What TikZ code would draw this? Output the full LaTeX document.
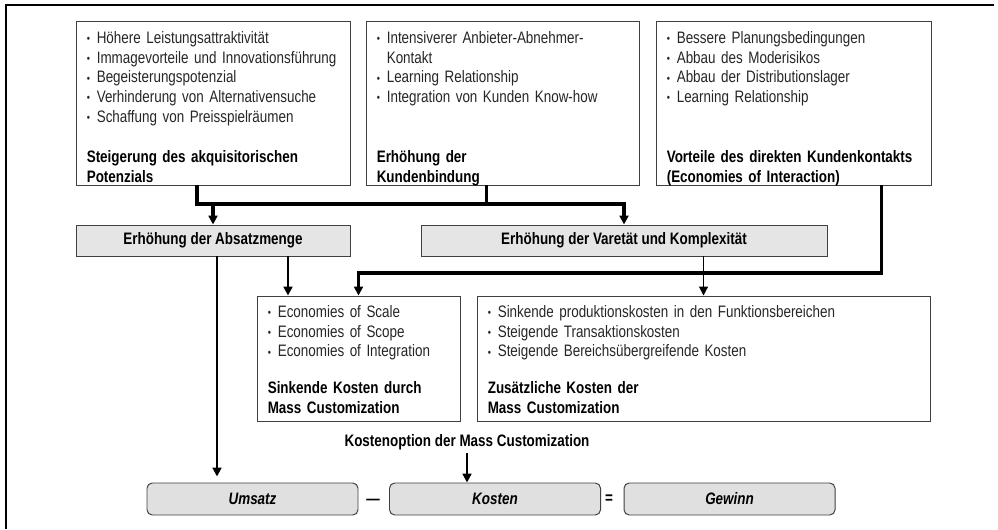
\documentclass[tikz,border=0pt]{standalone}
\usepackage{fontspec}
\setmainfont{Liberation Sans}[FakeStretch=0.81]
\usetikzlibrary{arrows.meta}
\newcommand{\bul}{\makebox[0.25cm][l]{\raisebox{0.4pt}{\footnotesize\textbullet}}}

\begin{document}
\fontsize{11.8}{14}\selectfont
\begin{tikzpicture}[
		box/.style={draw=black!75, line width=0.7pt, inner sep=0pt},
		grey/.style={box, fill=black!10, font=\bfseries},
		result/.style={box, fill=black!12, rounded corners=0.13cm, minimum width=5.275cm, minimum height=0.8cm, font=\bfseries\itshape},
		list/.style={inner sep=0pt, anchor=base west, text width=10.5cm, align=left, text=black!85},
		title/.style={inner sep=0pt, anchor=base west, text width=10.5cm, align=left, font=\bfseries},
		bus/.style={line width=2.2pt},
		link/.style={line width=1.5pt},
		tip/.style={-{Triangle[length=0.22cm,width=0.22cm]}},
	]
			%%%%% START %%%%%
			
			\useasboundingbox (0, 0) rectangle (24.95, -13.225);
			\draw[line width=1.1pt] (0.15, -13.225) -- (0.15, -0.125) -- (24.85, -0.125);
			
			\node[box, minimum width=6.85cm, minimum height=4.1cm] (akq) at (5.325, -2.575) {};
			\node[list] (akqList) at ([shift={(0.275cm,-0.575cm)}]akq.north west) {\bul Höhere Leistungsattraktivität\\ \bul Immagevorteile und Innovationsführung\\ \bul Begeisterungspotenzial\\ \bul Verhinderung von Alternativensuche\\ \bul Schaffung von Preisspielräumen};
			\node[title] (akqTitle) at ([shift={(0.275cm,0.575cm)}]akq.south west) {Steigerung des akquisitorischen\\Potenzials};
			
			\node[box, minimum width=6.825cm, minimum height=4.1cm] (kub) at (12.5625, -2.575) {};
			\node[list] (kubList) at ([shift={(0.275cm,-0.575cm)}]kub.north west) {\bul Intensiverer Anbieter-Abnehmer-\\ \makebox[0.25cm]{}Kontakt\\ \bul Learning Relationship\\ \bul Integration von Kunden Know-how};
			\node[title] (kubTitle) at ([shift={(0.275cm,0.575cm)}]kub.south west) {Erhöhung der\\Kundenbindung};
			
			\node[box, minimum width=6.875cm, minimum height=4.1cm] (dkk) at (19.8375, -2.575) {};
			\node[list] (dkkList) at ([shift={(0.275cm,-0.575cm)}]dkk.north west) {\bul Bessere Planungsbedingungen\\ \bul Abbau des Moderisikos\\ \bul Abbau der Distributionslager\\ \bul Learning Relationship};
			\node[title] (dkkTitle) at ([shift={(0.275cm,0.575cm)}]dkk.south west) {Vorteile des direkten Kundenkontakts\\(Economies of Interaction)};
			
			\node[grey, minimum width=6.85cm, minimum height=0.775cm] (absatz) at (5.325, -6.0125) {Erhöhung der Absatzmenge};
			\node[grey, minimum width=10.15cm, minimum height=0.775cm] (varietaet) at (15.6, -6.0125) {Erhöhung der Varetät und Komplexität};
			
			\node[box, minimum width=5.075cm, minimum height=3.125cm] (sinkend) at (8.9625, -8.9625) {};
			\node[list] (sinkendList) at ([shift={(0.275cm,-0.55cm)}]sinkend.north west) {\bul Economies of Scale\\ \bul Economies of Scope\\ \bul Economies of Integration};
			\node[title] (sinkendTitle) at ([shift={(0.275cm,0.7cm)}]sinkend.south west) {Sinkende Kosten durch\\Mass Customization};
			
			\node[box, minimum width=11.325cm, minimum height=3.125cm] (zusatz) at (17.5875, -8.9625) {};
			\node[list] (zusatzList) at ([shift={(0.275cm,-0.55cm)}]zusatz.north west) {\bul Sinkende produktionskosten in den Funktionsbereichen\\ \bul Steigende Transaktionskosten\\ \bul Steigende Bereichsübergreifende Kosten};
			\node[title] (zusatzTitle) at ([shift={(0.275cm,0.7cm)}]zusatz.south west) {Zusätzliche Kosten der\\Mass Customization};
			
			\node[font=\bfseries, inner sep=0pt] (option) at (11.675, -11.05) {Kostenoption der Mass Customization};
			
			\node[result] (umsatz) at (6.3125, -12.475) {Umsatz};
			\node[font=\bfseries] (minus) at (9.325, -12.55) {---};
			\node[result] (kosten) at (12.375, -12.475) {Kosten};
			\node[font=\bfseries] (equals) at (15.225, -12.475) {=};
			\node[result] (gewinn) at (18.2375, -12.475) {Gewinn};
			
			%% connectors
			\coordinate (busTop) at (0, -5.1);
			\coordinate (busMid) at (0, -6.825);
			\coordinate (akqOut) at ([xshift=-0.4cm]akq.south);
			\coordinate (kubOut) at ([xshift=-0.4cm]kub.south);
			\coordinate (dkkOut) at ([xshift=2.2cm]dkk.south);
			\coordinate (absatzOutA) at ([xshift=0.1cm]absatz.south);
			\coordinate (absatzOutB) at ([xshift=1.875cm]absatz.south);
			\coordinate (optionOut) at ([yshift=-0.08cm]option.south);
			
			\draw[bus, tip] (akqOut) |- (varietaet.north |- busTop) -- (varietaet.north);
			\draw[bus] (kubOut) -- (kubOut |- busTop);
			\draw[bus, tip] (absatz.north |- busTop) -- (absatz.north);
			\draw[bus, tip] (dkkOut) |- (sinkend.north |- busMid) -- (sinkend.north);
			\draw[line width=0.8pt, tip] (zusatz.north |- varietaet.south) -- (zusatz.north);
			\draw[link, tip, shorten >=0.15cm] (absatzOutA) -- (absatzOutA |- umsatz.north);
			\draw[link, tip] (absatzOutB) -- (absatzOutB |- sinkend.north);
			\draw[link, tip] (optionOut) -- (optionOut |- kosten.north);
			
			%%%%% END %%%%%
\end{tikzpicture}
\end{document}
